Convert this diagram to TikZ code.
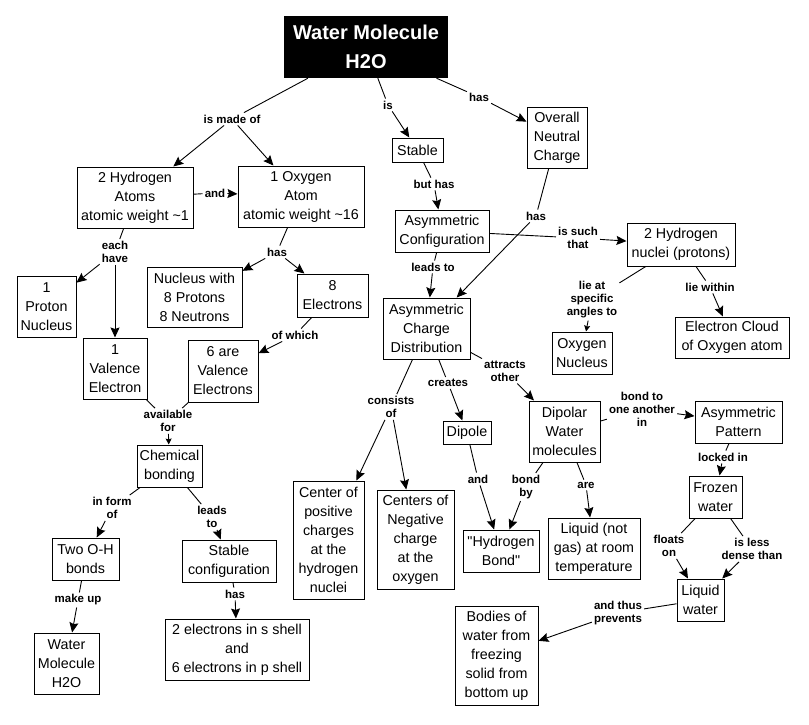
\documentclass[tikz,border=0pt]{standalone}
\usepackage{fontspec}
\setmainfont{Liberation Sans}
\usetikzlibrary{arrows.meta}
\newfontfamily\cfont{Liberation Sans}
\newfontfamily\lfont{Liberation Sans}
\tikzset{
  concept/.style={draw, line width=1pt, inner sep=0pt, align=center,
    font=\cfont\fontsize{14.3}{19}\selectfont},
  lbl/.style={inner sep=2pt, align=center,
    font=\lfont\bfseries\fontsize{11.5}{13}\selectfont},
  link/.style={draw, line width=0.9pt},
  arr/.style={draw, line width=0.9pt, -{Stealth[length=10pt,width=9pt,inset=1.5pt]}},
  arrs/.style={draw, line width=0.9pt, -{Stealth[length=6pt,width=6pt,inset=1pt]}}
}
\begin{document}
\begin{tikzpicture}[x=1pt,y=-1pt]
\useasboundingbox (0,0) rectangle (809,725);
% title
\node[fill=black, text=white, inner sep=0pt, minimum width=164pt, minimum height=62pt,
  align=center, font=\cfont\bfseries\fontsize{20}{29}\selectfont] (title) at (366,47) {Water Molecule\\H2O};
% concepts
\node[concept, minimum width=51pt, minimum height=24pt] (stable) at (417.5,150) {Stable};
\node[concept, minimum width=60pt, minimum height=61pt] (overall) at (557,137.5) {Overall\\Neutral\\Charge};
\node[concept, minimum width=116pt, minimum height=61pt] (hyd) at (135,197.5) {2 Hydrogen\\Atoms\\atomic weight \textasciitilde1};
\node[concept, minimum width=126pt, minimum height=61pt] (oxy) at (301,196.5) {1 Oxygen\\Atom\\atomic weight \textasciitilde16};
\node[concept, minimum width=59pt, minimum height=61pt] (proton) at (46.5,306.5) {1\\Proton\\Nucleus};
\node[concept, minimum width=64pt, minimum height=61pt] (val1) at (115,368.5) {1\\Valence\\Electron};
\node[concept, minimum width=95pt, minimum height=60pt] (nucleus) at (194.5,297) {Nucleus with\\8 Protons\\8 Neutrons};
\node[concept, minimum width=71pt, minimum height=43pt] (el8) at (332.5,295.5) {8\\Electrons};
\node[concept, minimum width=70pt, minimum height=62pt] (six) at (223,371) {6 are\\Valence\\Electrons};
\node[concept, minimum width=94pt, minimum height=42pt] (asymconf) at (442,231) {Asymmetric\\Configuration};
\node[concept, minimum width=108pt, minimum height=43pt] (hnuc) at (681,244.5) {2 Hydrogen\\nuclei (protons)};
\node[concept, minimum width=87pt, minimum height=61pt] (acd) at (426.5,328.5) {Asymmetric\\Charge\\Distribution};
\node[concept, minimum width=60pt, minimum height=42pt] (oxnuc) at (582,353) {Oxygen\\Nucleus};
\node[concept, minimum width=114pt, minimum height=41pt] (cloud) at (732,337.5) {Electron Cloud\\of Oxygen atom};
\node[concept, minimum width=65pt, minimum height=42pt] (chem) at (169.5,466) {Chemical\\bonding};
\node[concept, minimum width=67pt, minimum height=42pt] (twooh) at (85.5,559) {Two O-H\\bonds};
\node[concept, minimum width=94pt, minimum height=42pt] (stablecfg) at (229,561) {Stable\\configuration};
\node[concept, minimum width=65pt, minimum height=61pt] (wm) at (66.5,663.5) {Water\\Molecule\\H2O};
\node[concept, minimum width=144pt, minimum height=61pt] (shells) at (237,649.5) {2 electrons in s shell\\and\\6 electrons in p shell};
\node[concept, minimum width=71pt, minimum height=118pt] (cpos) at (328.5,540) {Center of\\positive\\charges\\at the\\hydrogen\\nuclei};
\node[concept, minimum width=77pt, minimum height=99pt] (cneg) at (415.5,539.5) {Centers of\\Negative\\charge\\at the\\oxygen};
\node[concept, minimum width=48pt, minimum height=23pt] (dipole) at (467,432.5) {Dipole};
\node[concept, minimum width=71pt, minimum height=61pt] (dipolar) at (564.5,431.5) {Dipolar\\Water\\molecules};
\node[concept, minimum width=87pt, minimum height=42pt] (asympat) at (738.5,422) {Asymmetric\\Pattern};
\node[concept, minimum width=76pt, minimum height=42pt] (hbond) at (501,551) {"Hydrogen\\Bond"};
\node[concept, minimum width=92pt, minimum height=61pt] (liqnot) at (594,548.5) {Liquid (not\\gas) at room\\temperature};
\node[concept, minimum width=53pt, minimum height=42pt] (frozen) at (715.5,497) {Frozen\\water};
\node[concept, minimum width=47pt, minimum height=42pt] (liquid) at (700.5,600) {Liquid\\water};
\node[concept, minimum width=83pt, minimum height=99pt] (bodies) at (496.5,655.5) {Bodies of\\water from\\freezing\\solid from\\bottom up};
% linking phrases
\node[lbl] (lmade) at (232,119) {is made of};
\node[lbl] (lis) at (388,105) {is};
\node[lbl] (lhas1) at (479,97) {has};
\node[lbl] (lbut) at (434,184) {but has};
\node[lbl] (land1) at (215,193) {and};
\node[lbl] (leach) at (115,252) {each\\have};
\node[lbl] (lhas2) at (277,252) {has};
\node[lbl] (lofw) at (295,335) {of which};
\node[lbl] (llead1) at (433,267) {leads to};
\node[lbl] (lhas3) at (536,216) {has};
\node[lbl] (lsuch) at (578,238) {is such\\that};
\node[lbl] (lang) at (592,300) {lie at\\specific\\angles to};
\node[lbl] (lwithin) at (710,287) {lie within};
\node[lbl] (lattr) at (505,371) {attracts\\other};
\node[lbl] (lcreat) at (448,383) {creates};
\node[lbl] (lcons) at (391,407) {consists\\of};
\node[lbl] (lavail) at (168,421) {available\\for};
\node[lbl] (lform) at (112,508) {in form\\of};
\node[lbl] (llead2) at (212,517) {leads\\to};
\node[lbl] (lmake) at (78,600) {make up};
\node[lbl] (lhas4) at (235,594) {has};
\node[lbl] (lbondto) at (642,409) {bond to\\one another\\in};
\node[lbl] (land2) at (478,479) {and};
\node[lbl] (lbondby) at (526,487) {bond\\by};
\node[lbl] (lare) at (586,485) {are};
\node[lbl] (llock) at (723,457) {locked in};
\node[lbl] (lfloat) at (669,546) {floats\\on};
\node[lbl] (lless) at (752,549) {is less\\dense than};
\node[lbl] (lthus) at (618,613) {and thus\\prevents};
% connectors
\draw[link] (title) -- (lmade); \draw[arr] (lmade) -- (hyd); \draw[arr] (lmade) -- (oxy);
\draw[link] (title) -- (lis); \draw[arr] (lis) -- (stable);
\draw[link] (title) -- (lhas1); \draw[arr] (lhas1) -- (overall);
\draw[link] (stable) -- (lbut); \draw[arr] (lbut) -- (asymconf);
\draw[link] (hyd) -- (land1); \draw[arr] (land1) -- (oxy);
\draw[link] (hyd) -- (leach); \draw[arr] (leach) -- (proton); \draw[arr] (leach) -- (val1);
\draw[link] (oxy) -- (lhas2); \draw[arr] (lhas2) -- (nucleus); \draw[arr] (lhas2) -- (el8);
\draw[link] (el8) -- (lofw); \draw[arr] (lofw) -- (six);
\draw[link] (val1) -- (lavail); \draw[link] (six) -- (lavail); \draw[arrs] (lavail) -- (chem);
\draw[link] (chem) -- (lform); \draw[arr] (lform) -- (twooh);
\draw[link] (chem) -- (llead2); \draw[arr] (llead2) -- (stablecfg);
\draw[link] (twooh) -- (lmake); \draw[arr] (lmake) -- (wm);
\draw[link] (stablecfg) -- (lhas4); \draw[arr] (lhas4) -- (shells);
\draw[link] (asymconf) -- (llead1); \draw[arr] (llead1) -- (acd);
\draw[link] (overall) -- (lhas3); \draw[arr] (lhas3) -- (acd);
\draw[link] (asymconf) -- (lsuch); \draw[arr] (lsuch) -- (hnuc);
\draw[link] (hnuc) -- (lang); \draw[arrs] (lang) -- (oxnuc);
\draw[link] (hnuc) -- (lwithin); \draw[arr] (lwithin) -- (cloud);
\draw[link] (acd) -- (lcons); \draw[arr] (lcons) -- (cpos); \draw[arr] (lcons) -- (cneg);
\draw[link] (acd) -- (lcreat); \draw[arr] (lcreat) -- (dipole);
\draw[link] (acd) -- (lattr); \draw[arr] (lattr) -- (dipolar);
\draw[link] (dipolar) -- (lbondto); \draw[arr] (lbondto) -- (asympat);
\draw[link] (dipole) -- (land2); \draw[arr] (land2) -- (hbond);
\draw[link] (dipolar) -- (lbondby); \draw[arr] (lbondby) -- (hbond);
\draw[link] (dipolar) -- (lare); \draw[arr] (lare) -- (liqnot);
\draw[link] (asympat) -- (llock); \draw[arr] (llock) -- (frozen);
\draw[link] (frozen) -- (lfloat); \draw[arr] (lfloat) -- (liquid);
\draw[link] (frozen) -- (lless); \draw[arr] (lless) -- (liquid);
\draw[link] (liquid) -- (lthus); \draw[arr] (lthus) -- (bodies);
\end{tikzpicture}
\end{document}
